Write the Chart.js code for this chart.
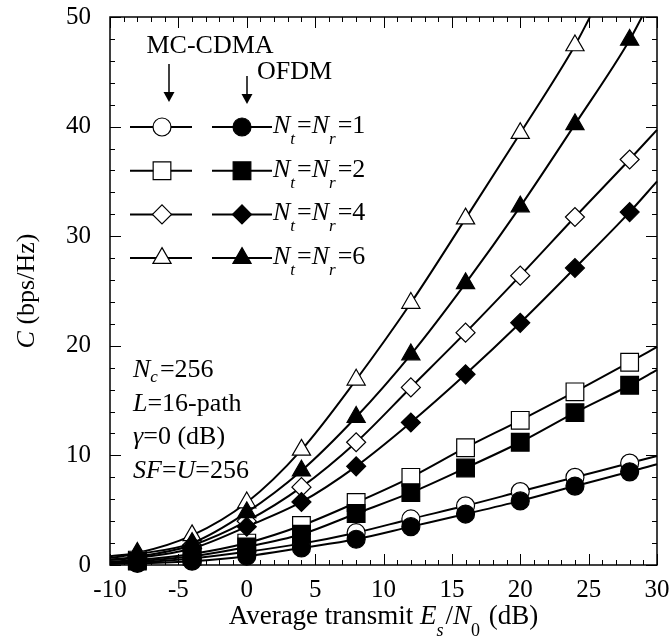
<!DOCTYPE html>
<html>
<head>
<meta charset="utf-8">
<script src="https://cdn.jsdelivr.net/npm/chart.js@4.4.0/dist/chart.umd.min.js"></script>
<style>
  html, body { margin: 0; padding: 0; background: #fff; }
  #wrap { width: 671px; height: 642px; }
</style>
</head>
<body>
<div id="wrap"><canvas id="capChart"></canvas></div>
<script>
// average transmit Es/N0 (dB) where the markers sit
const snr = [-8, -4, 0, 4, 8, 12, 16, 20, 24, 28];

// capacity C (bps/Hz), MC-CDMA (open markers)
const mc1 = [0.25, 0.6, 1.2, 1.95, 2.95, 4.2, 5.4, 6.7, 8.0, 9.3];
const mc2 = [0.45, 1.0, 2.0, 3.6, 5.7, 8.0, 10.7, 13.2, 15.8, 18.5];
const mc4 = [0.75, 1.8, 4.0, 7.1, 11.2, 16.2, 21.2, 26.4, 31.75, 37.0];
const mc6 = [1.1, 2.7, 5.7, 10.5, 16.9, 23.9, 31.6, 39.4, 47.4, null];

// capacity C (bps/Hz), OFDM (filled markers)
const ofdm1 = [0.15, 0.35, 0.8, 1.55, 2.35, 3.5, 4.65, 5.85, 7.2, 8.5];
const ofdm2 = [0.35, 0.8, 1.65, 2.8, 4.7, 6.6, 8.85, 11.2, 13.9, 16.4];
const ofdm4 = [0.65, 1.5, 3.5, 5.75, 9.0, 13.0, 17.4, 22.1, 27.1, 32.2];
const ofdm6 = [1.0, 2.0, 4.8, 8.6, 13.5, 19.2, 25.7, 32.7, 40.2, 47.9];

// where each curve meets the frame: [Es/N0, C] at its start and end
const mc1Ends = [[-10, 0.15], [30, 9.95]];
const mc2Ends = [[-10, 0.3], [30, 19.9]];
const mc4Ends = [[-10, 0.5], [30, 39.7]];
const mc6Ends = [[-10, 0.8], [25.1, 50]];
const ofdm1Ends = [[-10, 0.1], [30, 9.2]];
const ofdm2Ends = [[-10, 0.25], [30, 17.8]];
const ofdm4Ends = [[-10, 0.45], [30, 35.0]];
const ofdm6Ends = [[-10, 0.65], [28.9, 50]];

const antennas = [1, 2, 4, 6];
const notes = ['Nc=256', 'L=16-path', 'γ=0 (dB)', 'SF=U=256'];

const SERIF = "'Liberation Serif', 'Times New Roman', serif";
const styles = ['circle', 'rect', 'rectRot', 'triangle'];
const radii = [9, 12.5, 9.5, 10.5];

const curve = (ys, ends) => {
  const pts = snr.map((x, i) => ({ x, y: ys[i] })).filter(p => p.y != null);
  return [{ x: ends[0][0], y: ends[0][1] }, ...pts, { x: ends[1][0], y: ends[1][1] }];
};

const makeSet = (label, ys, ends, k, filled) => ({
  label,
  data: curve(ys, ends),
  borderColor: '#000',
  borderWidth: 2,
  pointStyle: styles[k],
  pointRadius: c => (c.raw && snr.includes(c.raw.x) ? radii[k] : 0),
  pointBackgroundColor: filled ? '#000' : '#fff',
  pointBorderColor: '#000',
  pointBorderWidth: 1.2,
  cubicInterpolationMode: 'monotone',
  clip: false,
  order: filled ? 0 : 1
});

const datasets = [
  makeSet('OFDM 1', ofdm1, ofdm1Ends, 0, true),
  makeSet('OFDM 2', ofdm2, ofdm2Ends, 1, true),
  makeSet('OFDM 4', ofdm4, ofdm4Ends, 2, true),
  makeSet('OFDM 6', ofdm6, ofdm6Ends, 3, true),
  makeSet('MC-CDMA 1', mc1, mc1Ends, 0, false),
  makeSet('MC-CDMA 2', mc2, mc2Ends, 1, false),
  makeSet('MC-CDMA 4', mc4, mc4Ends, 2, false),
  makeSet('MC-CDMA 6', mc6, mc6Ends, 3, false)
];

// text with italic pieces and subscripts: parts are [text, flags], flags 'i' italic, 's' subscript
function richText(ctx, x, y, parts, size, align, drop) {
  const sub = Math.round(size * 0.66);
  const fontFor = f => (f.includes('i') ? 'italic ' : '') + (f.includes('s') ? sub : size) + 'px ' + SERIF;
  let total = 0;
  const widths = parts.map(([t, f]) => {
    ctx.font = fontFor(f);
    const w = ctx.measureText(t).width + (f.includes('s') ? 2 : 0);
    total += w;
    return w;
  });
  let cx = align === 'center' ? x - total / 2 : x;
  ctx.textAlign = 'left';
  ctx.textBaseline = 'alphabetic';
  parts.forEach(([t, f], i) => {
    ctx.font = fontFor(f);
    ctx.fillText(t, cx, y + (f.includes('s') ? drop : 0));
    cx += widths[i];
  });
}

function marker(ctx, k, filled, x, y) {
  ctx.fillStyle = filled ? '#000' : '#fff';
  ctx.strokeStyle = '#000';
  ctx.lineWidth = 1.2;
  Chart.helpers.drawPoint(ctx, { pointStyle: styles[k], radius: radii[k], borderWidth: 1.2, rotation: 0 }, x, y);
}

function arrow(ctx, x, y0, y1) {
  ctx.lineWidth = 1.5;
  ctx.beginPath();
  ctx.moveTo(x, y0);
  ctx.lineTo(x, y1 - 8);
  ctx.stroke();
  ctx.beginPath();
  ctx.moveTo(x - 5.5, y1 - 10);
  ctx.lineTo(x + 5.5, y1 - 10);
  ctx.lineTo(x, y1);
  ctx.closePath();
  ctx.fill();
}

const decorations = {
  id: 'decorations',
  afterDraw(chart) {
    const { ctx, chartArea: a, scales: { x, y } } = chart;
    ctx.save();
    ctx.strokeStyle = '#000';
    ctx.fillStyle = '#000';

    // frame and inward ticks on all four sides
    ctx.lineWidth = 1.5;
    ctx.strokeRect(a.left, a.top, a.right - a.left, a.bottom - a.top);
    ctx.lineWidth = 1;
    ctx.beginPath();
    for (let v = -10; v <= 30; v++) {
      const px = Math.round(x.getPixelForValue(v)) + 0.5;
      const len = v % 5 === 0 ? 11 : 5;
      ctx.moveTo(px, a.bottom); ctx.lineTo(px, a.bottom - len);
      ctx.moveTo(px, a.top); ctx.lineTo(px, a.top + len);
    }
    for (let v = 0; v <= 50; v += 2) {
      const py = Math.round(y.getPixelForValue(v)) + 0.5;
      const len = v % 10 === 0 ? 11 : 5;
      ctx.moveTo(a.left, py); ctx.lineTo(a.left + len, py);
      ctx.moveTo(a.right, py); ctx.lineTo(a.right - len, py);
    }
    ctx.stroke();

    // legend
    ctx.font = '26px ' + SERIF;
    ctx.textAlign = 'center';
    ctx.textBaseline = 'alphabetic';
    ctx.fillText('MC-CDMA', a.left + 100, a.top + 36);
    ctx.textAlign = 'left';
    ctx.fillText('OFDM', a.left + 147, a.top + 62);
    arrow(ctx, a.left + 59, a.top + 47, a.top + 85);
    arrow(ctx, a.left + 137, a.top + 59, a.top + 87);

    antennas.forEach((n, k) => {
      const ry = a.top + 110 + k * 43.7;
      ctx.lineWidth = 2;
      ctx.beginPath();
      ctx.moveTo(a.left + 20, ry); ctx.lineTo(a.left + 82, ry);
      ctx.moveTo(a.left + 102, ry); ctx.lineTo(a.left + 162, ry);
      ctx.stroke();
      marker(ctx, k, false, a.left + 52, ry);
      marker(ctx, k, true, a.left + 132, ry);
      ctx.fillStyle = '#000';
      richText(ctx, a.left + 163, ry + 6,
        [['N', 'i'], ['t', 'is'], ['=', ''], ['N', 'i'], ['r', 'is'], ['=' + n, '']], 26, 'left', 11);
    });

    // simulation parameters
    const noteParts = [
      [['N', 'i'], ['c', 'is'], [notes[0].slice(2), '']],
      [['L', 'i'], [notes[1].slice(1), '']],
      [['γ', 'i'], [notes[2].slice(1), '']],
      [['SF', 'i'], ['=', ''], ['U', 'i'], [notes[3].slice(4), '']]
    ];
    noteParts.forEach((p, i) => richText(ctx, a.left + 23, a.top + 360 + i * 33.7, p, 26, 'left', 5));

    // axis titles
    richText(ctx, (a.left + a.right) / 2, 624,
      [['Average transmit ', ''], ['E', 'i'], ['s', 'is'], ['/', ''], ['N', 'i'], ['0', 's'], [' (dB)', '']], 27, 'center', 12);
    ctx.translate(34, (a.top + a.bottom) / 2);
    ctx.rotate(-Math.PI / 2);
    richText(ctx, 0, 0, [['C', 'i'], [' (bps/Hz)', '']], 26, 'center', 0);
    ctx.restore();
  }
};

const tickFont = { family: SERIF, size: 25 };

new Chart(document.getElementById('capChart'), {
  type: 'line',
  data: { datasets },
  options: {
    responsive: true,
    maintainAspectRatio: false,
    animation: false,
    events: [],
    layout: { padding: { top: 17, right: 14, left: 0, bottom: 0 } },
    plugins: { legend: { display: false }, tooltip: { enabled: false } },
    scales: {
      x: {
        type: 'linear', min: -10, max: 30,
        ticks: { stepSize: 5, font: tickFont, color: '#000', padding: 10, maxRotation: 0 },
        grid: { display: false, drawTicks: false },
        border: { display: false },
        afterFit: s => { s.height = 77; s.paddingLeft = 0; s.paddingRight = 0; }
      },
      y: {
        min: 0, max: 50,
        ticks: { stepSize: 10, font: tickFont, color: '#000', padding: 19 },
        grid: { display: false, drawTicks: false },
        border: { display: false },
        afterFit: s => { s.width = 110; s.paddingTop = 0; s.paddingBottom = 0; }
      }
    }
  },
  plugins: [decorations]
});
</script>
</body>
</html>
